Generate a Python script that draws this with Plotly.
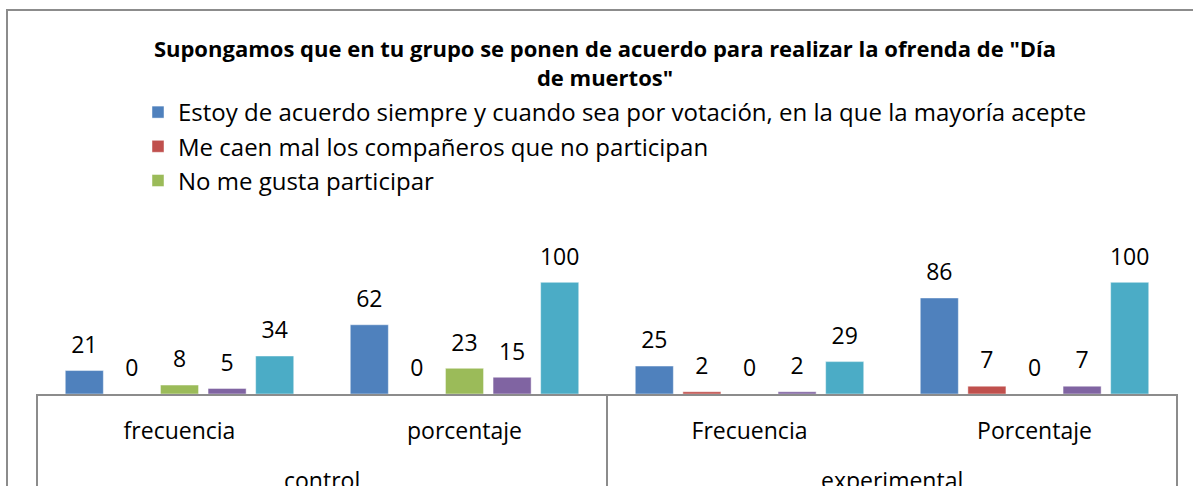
import plotly.graph_objects as go

# ---- data ----
groups = ["control", "control", "experimental", "experimental"]
subcats = ["frecuencia", "porcentaje", "Frecuencia", "Porcentaje"]
series_names = [
    "Estoy de acuerdo siempre y cuando sea por votación, en la que la mayoría acepte",
    "Me caen mal los compañeros que no participan",
    "No me gusta participar",
    "Otro",
    "Total",
]
s1 = [21, 62, 25, 86]
s2 = [0, 0, 2, 7]
s3 = [8, 23, 0, 0]
s4 = [5, 15, 2, 7]
s5 = [34, 100, 29, 100]
series_values = [s1, s2, s3, s4, s5]
series_colors = ["#4F81BD", "#C0504D", "#9BBB59", "#8064A2", "#4BACC6"]
show_in_legend = [True, True, True, False, False]

title_text = 'Supongamos que en tu grupo se ponen de acuerdo para realizar la ofrenda de "Día<br>de muertos"'

# ---- layout constants ----
W, H = 1193, 486
ML, MR, MT, MB = 37, 16, 260, 92
FONT = "Open Sans"
AXIS_GREY = "#8c8c8c"
TXT = 23          # visible text size
LABEL_BASE = 9    # base size of data-label text (controls spacing above the bar)

fig = go.Figure()
for name, vals, col, sl in zip(series_names, series_values, series_colors, show_in_legend):
    fig.add_trace(go.Bar(
        name=name,
        x=subcats,
        y=vals,
        marker=dict(color=col, line=dict(color="rgba(255,255,255,0.45)", width=1)),
        texttemplate="<span style='font-size:%dpx'>%%{y}</span><br>\u00a0" % TXT,
        textposition="outside",
        constraintext="none",
        textfont=dict(family=FONT, size=LABEL_BASE, color="#000000"),
        cliponaxis=False,
        showlegend=sl,
        hoverinfo="x+y+name",
    ))

pw = W - ML - MR
ph = H - MT - MB
n = len(subcats)


def px_to_paper_x(px):
    return (px - ML) / pw


def px_to_paper_y(py):
    return (H - MB - py) / ph


# second-level (group) labels and the divider lines of the category box
group_names = list(dict.fromkeys(groups))
group_idx = {g: [i for i, gg in enumerate(groups) if gg == g] for g in group_names}
annotations = [
    dict(
        x=sum(idx) / len(idx), xref="x", y=0, yref="paper",
        yshift=-86, yanchor="middle", showarrow=False,
        text=g, font=dict(family=FONT, size=TXT, color="#000000"),
    )
    for g, idx in group_idx.items()
]
bounds = sorted({idx[0] - 0.5 for idx in group_idx.values()} | {idx[-1] + 0.5 for idx in group_idx.values()})
shapes = [
    dict(
        type="line", xref="paper", yref="paper",
        x0=(b + 0.5) / n, x1=(b + 0.5) / n, y0=0, y1=-1,
        line=dict(color=AXIS_GREY, width=2), layer="above",
    )
    for b in bounds
]
# outer chart border
shapes.append(dict(
    type="rect", xref="paper", yref="paper",
    x0=px_to_paper_x(7), x1=px_to_paper_x(W + 20),
    y0=px_to_paper_y(H + 20), y1=px_to_paper_y(10),
    line=dict(color="#8c8c8c", width=2),
    fillcolor="rgba(0,0,0,0)", layer="below",
))

fig.update_layout(
    width=W, height=H,
    margin=dict(l=ML, r=MR, t=MT, b=MB, pad=0, autoexpand=False),
    paper_bgcolor="white",
    plot_bgcolor="white",
    barmode="group",
    bargap=0.165,
    bargroupgap=0.2,
    font=dict(family=FONT, size=TXT, color="#000000"),
    title=dict(
        text=title_text,
        x=605 / W, xref="container", xanchor="center",
        y=1 - 57 / H, yref="container", yanchor="top",
        font=dict(family=FONT, size=22, color="#000000", weight="bold"),
    ),
    legend=dict(
        x=138 / W, xref="container", xanchor="left",
        y=1 - 90 / H, yref="container", yanchor="top",
        font=dict(family=FONT, size=24, color="#000000"),
        bgcolor="rgba(0,0,0,0)",
        borderwidth=0,
        traceorder="normal",
    ),
    xaxis=dict(
        type="category",
        range=[-0.5, n - 0.5],
        automargin=False,
        tickangle=0,
        showline=True, linecolor=AXIS_GREY, linewidth=2,
        ticks="", ticklabelstandoff=15,
        tickfont=dict(family=FONT, size=TXT, color="#000000"),
        showgrid=False, zeroline=False,
    ),
    yaxis=dict(visible=False, range=[0, 120], showgrid=False, zeroline=False, automargin=False),
    annotations=annotations,
    shapes=shapes,
)

fig.write_html(
    "out.html",
    config={"displayModeBar": False},
    post_script="document.body.style.margin='0px';",
)
